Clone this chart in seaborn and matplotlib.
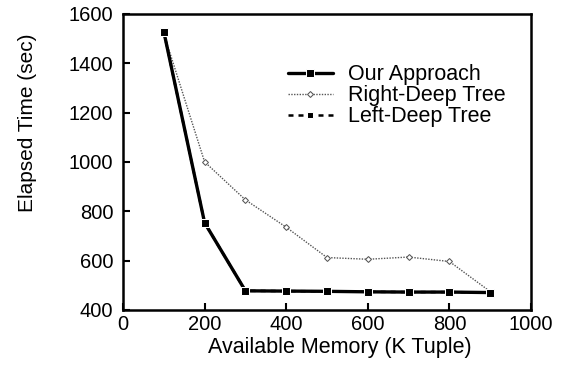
import matplotlib
matplotlib.use("Agg")
import matplotlib.pyplot as plt
import seaborn as sns
import pandas as pd

# Data
memory = [100, 200, 300, 400, 500, 600, 700, 800, 900]
our_approach = [1528, 753, 477, 476, 475, 473, 472, 472, 470]
right_deep = [1520, 1000, 846, 735, 612, 605, 614, 596, 474]
left_deep = [1528, 753, 477, 476, 475, 473, 472, 472, 470]

sns.set_style("ticks", {"axes.edgecolor": "black", "xtick.color": "black",
                        "ytick.color": "black", "text.color": "black",
                        "axes.labelcolor": "black"})
plt.rcParams['font.family'] = ['Liberation Sans', 'DejaVu Sans']

df = pd.DataFrame({"memory": memory, "our": our_approach,
                   "right": right_deep, "left": left_deep})

fig = plt.figure(figsize=(5.74, 3.76), dpi=100)
ax = fig.add_axes([0.2143, 0.176, 0.7108, 0.787])

sns.lineplot(data=df, x="memory", y="right", ax=ax, color="#555555", lw=1.0,
             linestyle=(0, (1, 1)), marker="D", markersize=3, markerfacecolor="white",
             markeredgecolor="#555555", label="Right-Deep Tree")
sns.lineplot(data=df, x="memory", y="left", ax=ax, color="black", lw=1.8,
             linestyle=(0, (2, 2)), marker="s", markersize=5, label="Left-Deep Tree")
sns.lineplot(data=df, x="memory", y="our", ax=ax, color="black", lw=2.4,
             marker="s", markersize=5.5, label="Our Approach")

ax.set_xlim(0, 1000)
ax.set_ylim(400, 1600)
ax.set_xticks([0, 200, 400, 600, 800, 1000])
ax.set_yticks([400, 600, 800, 1000, 1200, 1400, 1600])
ax.tick_params(direction="in", length=5, width=1.5, labelsize=14.5)
ax.tick_params(axis="x", pad=4)
ax.tick_params(axis="y", pad=7)
for s in ax.spines.values():
    s.set_linewidth(1.8)
ax.set_xlabel("Available Memory (K Tuple)", fontsize=15.5, va="center")
ax.set_ylabel("Elapsed Time (sec)", fontsize=15, va="center")
ax.xaxis.set_label_coords(0.532, -0.127)
ax.yaxis.set_label_coords(-0.235, 0.632)

h, l = ax.get_legend_handles_labels()
order = [l.index("Our Approach"), l.index("Right-Deep Tree"), l.index("Left-Deep Tree")]
ax.legend([h[i] for i in order], [l[i] for i in order], frameon=False,
          fontsize=15.5, loc="upper left", bbox_to_anchor=(0.404, 0.83),
          borderaxespad=0, borderpad=0, handlelength=2.1, handletextpad=0.7,
          labelspacing=0.0)

fig.savefig("out.png", dpi=100)
